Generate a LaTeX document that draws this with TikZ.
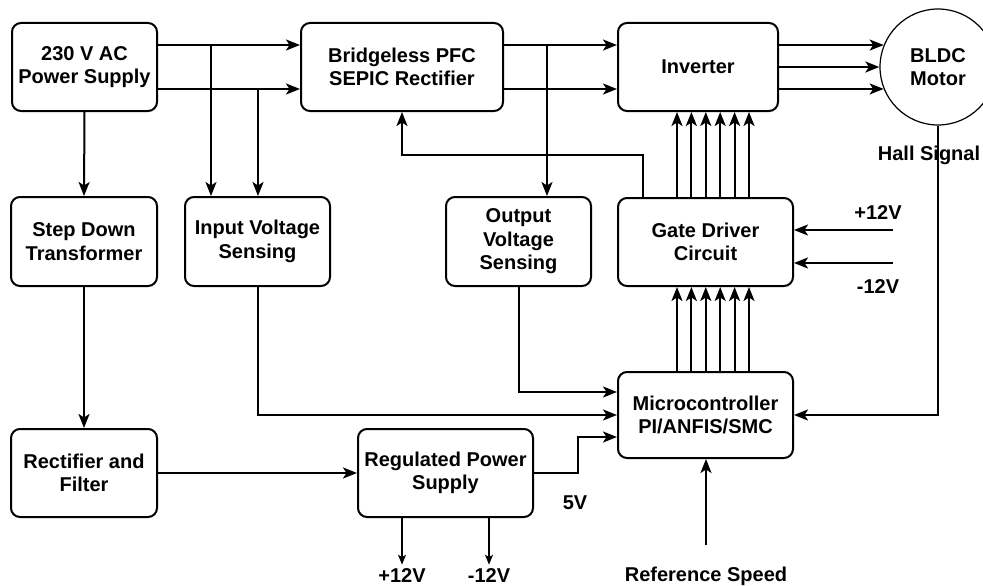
\documentclass[tikz,border=0pt]{standalone}
\usepackage{fontspec}
\setmainfont{Liberation Sans}
\usetikzlibrary{arrows.meta,positioning,calc}

\begin{document}
\begin{tikzpicture}[x=1pt,y=-1pt,line width=2pt,>={Stealth[length=14pt,width=11pt,inset=3.5pt]},
 blk/.style={draw,rounded corners=9pt,align=center,font=\bfseries\fontsize{20}{23.5}\selectfont},
 lbl/.style={font=\bfseries\fontsize{20}{23}\selectfont},
 slim/.style={line width=1.2pt,>={Stealth[length=10pt,width=8pt,inset=2.5pt]}}]
 \clip (0,0) rectangle (983,586);
 \fill[white] (0,0) rectangle (983,586);
 \node[blk,minimum width=145pt,minimum height=88pt] (supply) at (84.5,67) {230 V AC\\Power Supply};
 \node[blk,minimum width=202pt,minimum height=88pt] (bridge) at (402,67) {Bridgeless PFC\\SEPIC Rectifier};
 \node[blk,minimum width=160pt,minimum height=88pt] (inv) at (698,67) {Inverter};
 \node[blk,circle,rounded corners=0pt,line width=1.2pt,minimum size=116pt] (motor) at (938,67) {BLDC\\Motor};
 \node[blk,minimum width=146pt,minimum height=89pt] (stepdown) at (84,241.5) {Step Down\\Transformer};
 \node[blk,minimum width=145pt,minimum height=89pt] (insense) at (257.5,241.5) {Input Voltage\\Sensing};
 \node[blk,minimum width=145pt,minimum height=89pt] (outsense) at (518.5,241.5) {Output\\Voltage\\Sensing};
 \node[blk,minimum width=175pt,minimum height=88pt] (gate) at (705.5,242) {Gate Driver\\Circuit};
 \node[blk,minimum width=146pt,minimum height=88pt] (rect) at (84,473) {Rectifier and\\Filter};
 \node[blk,minimum width=175pt,minimum height=88pt] (reg) at (445.5,473) {Regulated Power\\Supply};
 \node[blk,minimum width=175pt,minimum height=86pt] (micro) at (705.5,415) {Microcontroller\\PI/ANFIS/SMC};

 \draw[->] ([yshift=22pt]supply.east) -- ([yshift=22pt]bridge.west);
 \draw[->] ([yshift=-22pt]supply.east) -- ([yshift=-22pt]bridge.west);
 \draw[->] ([yshift=22pt]bridge.east) -- ([yshift=22pt]inv.west);
 \draw[->] ([yshift=-22pt]bridge.east) -- ([yshift=-22pt]inv.west);
 \draw[->] (inv.east |- motor.158) -- (motor.158);
 \draw[->] (inv.east) -- (motor.west);
 \draw[->] (inv.east |- motor.202) -- (motor.202);

 \coordinate (tapA) at (211,45);
 \coordinate (tapB) at (258,89);
 \coordinate (tapC) at (547,45);
 \draw[->] (tapA) -- (tapA |- insense.north);
 \draw[->] (tapB) -- (tapB |- insense.north);
 \draw[->] (tapC) -- (tapC |- outsense.north);

 \draw[->] (supply.south) -- (stepdown.north);
 \draw[->] (stepdown.south) -- (rect.north);
 \draw[->] (rect.east) -- (reg.west);
 \draw[->] (insense.south) |- (micro.west);
 \draw[->] (outsense.south) |- ([yshift=23pt]micro.west);
 \draw[->] (reg.east) -- ++(44,0) |- ([yshift=-22pt]micro.west);
 \node[lbl] (out5) at (575,503) {5V};

 \coordinate (fbk) at (643,155);
 \draw[->] (gate.north -| fbk) |- (bridge.south |- fbk) -- (bridge.south);

 \foreach \dx in {-28.5,-14.1,0.3,14.7,29.1,43.5} {
  \draw[->] ([xshift=\dx pt]micro.north) -- ([xshift=\dx pt]micro.north |- gate.south);
  \draw[->] ([xshift=\dx pt]gate.north) -- ([xshift=\dx pt]gate.north |- inv.south);
 }

 \coordinate (vplus) at (893,230);
 \coordinate (vminus) at (893,263);
 \draw[->] (vplus) -- (vplus -| gate.east);
 \draw[->] (vminus) -- (vminus -| gate.east);
 \node[lbl] (gplus) at (878,213) {+12V};
 \node[lbl] (gminus) at (878,287) {-12V};

 \draw[->] (motor.south) |- (micro.east);
 \node[lbl] (hall) at (929,155) {Hall Signal};

 \node[lbl] (rplus) at (402,576) {+12V};
 \node[lbl] (rminus) at (489,576) {-12V};
 \draw[->,slim] (reg.south -| rplus) -- (rplus.north);
 \draw[->,slim] (reg.south -| rminus) -- (rminus.north);

 \node[lbl] (refspd) at (706,576) {Reference Speed};
 \coordinate (refin) at (706,545);
 \draw[->] (refin) -- (refin |- micro.south);
\end{tikzpicture}
\end{document}
